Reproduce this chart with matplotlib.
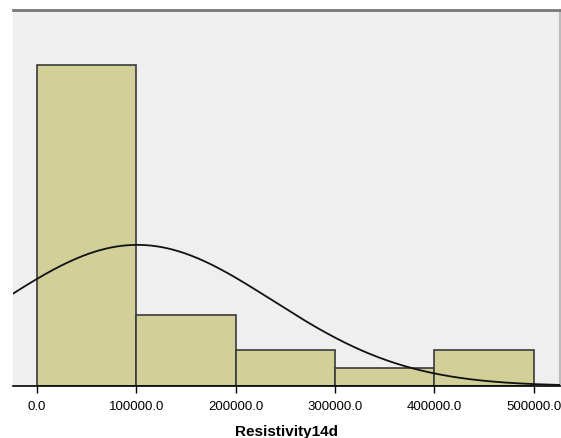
import numpy as np
import matplotlib
matplotlib.use("Agg")
import matplotlib.pyplot as plt

# histogram bins of Resistivity14d and their counts
bin_edges = [0, 100000, 200000, 300000, 400000, 500000]
counts = [18, 4, 2, 1, 2]
tick_values = [0, 100000, 200000, 300000, 400000, 500000]
tick_labels = ["0.0", "100000.0", "200000.0", "300000.0", "400000.0", "500000.0"]

# normal fit parameters
mean_val = 101000.0
sd_val = 136000.0
n_total = sum(counts)
bin_width = 100000.0

plt.rcParams['font.family'] = ['Liberation Sans', 'DejaVu Sans']

fig = plt.figure(figsize=(5.61, 4.39), dpi=100)
ax = fig.add_axes([13 / 561, 52 / 439, 547 / 561, 376 / 439])
ax.set_facecolor("#EFEFEF")

lefts = bin_edges[:-1]
widths = np.diff(bin_edges)
ax.bar(lefts, counts, width=widths, align="edge", color="#D2CF98",
       edgecolor="#3A3A3A", linewidth=1.2, zorder=2)

xs = np.linspace(-30000, 540000, 400)
ys = n_total * bin_width / (sd_val * np.sqrt(2 * np.pi)) * np.exp(-(xs - mean_val) ** 2 / (2 * sd_val ** 2))
ax.plot(xs, ys, color="#111111", linewidth=1.3, zorder=3)

ax.set_xlim(-24200, 526500)
ax.set_ylim(0, 21.1)
ax.set_xticks(tick_values)
ax.set_xticklabels(tick_labels, fontsize=9.5)
ax.set_yticks([])
ax.tick_params(axis="x", length=5, width=1, color="black", pad=5)

ax.spines["left"].set_visible(False)
ax.spines["bottom"].set_color("black")
ax.spines["bottom"].set_linewidth(1.2)
ax.spines["top"].set_color("#777777")
ax.spines["top"].set_linewidth(2)
ax.spines["right"].set_color("#BBBBBB")
ax.spines["right"].set_linewidth(1.5)

ax.set_xlabel("Resistivity14d", fontsize=11, fontweight="bold", labelpad=9)

fig.savefig("out.png", dpi=100)
